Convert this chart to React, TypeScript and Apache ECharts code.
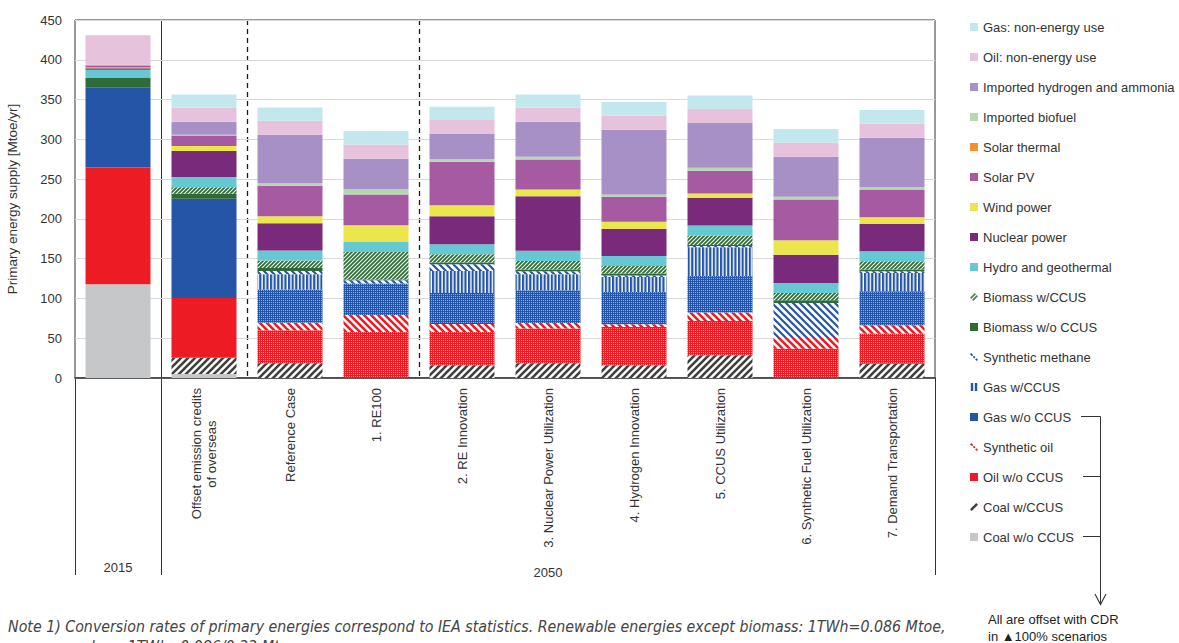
import React, { useEffect, useRef } from 'react';
import * as echarts from 'echarts';

// ---------------- data ----------------
const CATEGORIES = [
  '2015',
  'Offset emission credits\nof overseas\u00a0\u00a0\u00a0\u00a0\u00a0\u00a0\u00a0\u00a0\u00a0',
  'Reference Case',
  '1. RE100',
  '2. RE Innovation',
  '3. Nuclear Power Utilization',
  '4. Hydrogen Innovation',
  '5. CCUS Utilization',
  '6. Synthetic Fuel Utilization',
  '7. Demand Transportation',
];
const YEAR_GROUPS = ['2015', '2050'];
const Y_TICKS = { min: 0, max: 450, interval: 50 };

const coalWo = [117.8, 5, 0, 0, 0, 0, 0, 0, 0, 0];
const coalCcus = [0, 20.5, 18.5, 0, 15.9, 18.5, 15.9, 28.5, 0, 18];
const oilWo = [146.8, 75.2, 41.5, 57.9, 42, 43.6, 48.3, 43.2, 36.9, 37.8];
const synOil = [0, 0, 9.6, 21.4, 10.1, 6.9, 3.3, 10.5, 13.4, 10.5];
const gasWo = [100.3, 124.5, 41.5, 39.4, 38.9, 41.3, 40.7, 46.1, 0, 42.7];
const gasCcus = [0, 0, 19.3, 0, 27.7, 20.1, 18.9, 36, 0, 23.1];
const synMethane = [0, 0, 4.2, 4.2, 8.4, 3.8, 1.7, 1.5, 44.1, 2.1];
const bioWo = [12.1, 6.3, 3.8, 1, 2.1, 2.1, 2.5, 1.5, 3.3, 2.1];
const bioCcus = [0, 8.4, 9.2, 34.6, 10.5, 10.9, 9.6, 11.8, 9.2, 10.5];
const hydro = [10.5, 12.6, 12.6, 12.6, 12.6, 12.6, 12.6, 12.6, 12.6, 12.6];
const nuclear = [2, 32.7, 34.4, 0, 35.2, 68.8, 34, 34.8, 35.3, 34.4];
const wind = [0.7, 6.3, 8.8, 21, 13.8, 8.4, 8.8, 5.4, 18.4, 8.3];
const solarPV = [2.5, 13.4, 38.2, 38.6, 54.6, 37.7, 31.4, 28.5, 51.2, 34.9];
const solarThermal = [1, 0, 0, 0, 0, 0, 0, 0, 0, 0];
const impBiofuel = [0, 1, 3.3, 6.7, 3.3, 3.4, 3, 3.8, 3.3, 2.9];
const impHydrogen = [0, 16.1, 60.8, 38.1, 31.5, 44, 81.3, 56.2, 50.4, 62.1];
const oilNonEnergy = [37, 18.1, 17.7, 18.1, 17.6, 18, 18.1, 18, 17.6, 18];
const gasNonEnergy = [0, 16.4, 16.7, 16.8, 16.8, 16.4, 16.7, 16.8, 17.2, 16.8];

// index from which the "w/o CCUS" oil & gas are offset (dotted texture)
const OFFSET_FROM_INDEX = 2;

// ---------------- styles ----------------
const FONT = "'Liberation Sans', Arial, Helvetica, sans-serif";
const NOTE_FONT = "'Liberation Sans Narrow', 'DejaVu Sans Condensed', 'Liberation Sans', Arial, sans-serif";
const TEXT = '#333333';

const C = {
  coal: '#c6c7c9',
  coalDark: '#3f3f3f',
  red: '#ed1c24',
  blue: '#2455a6',
  bioDark: '#2e6b38',
  hydro: '#66c8d3',
  nuclear: '#7a2a7b',
  wind: '#ebe64b',
  solarPV: '#a55aa2',
  solarThermal: '#f58f33',
  biofuel: '#b6d8b1',
  hydrogen: '#a790c5',
  oilNE: '#e6c2dc',
  gasNE: '#c2e7ed',
};

const svgUrl = (w: number, h: number, body: string) =>
  'data:image/svg+xml;charset=utf-8,' +
  encodeURIComponent(`<svg xmlns="http://www.w3.org/2000/svg" width="${w}" height="${h}">${body}</svg>`);

const diagPattern = (p: number, sw: number, color: string, bg: string, dir: '/' | '\\') => {
  let d = '';
  if (dir === '/') {
    for (const c of [0, p, 2 * p]) d += `M${c - p - 2},${p + 2} L${p + 2},${c - p - 2} `;
  } else {
    for (const c of [-p, 0, p]) d += `M-2,${-2 - c} L${p + 2},${p + 2 - c} `;
  }
  return {
    image: svgUrl(p, p, `<rect width="${p}" height="${p}" fill="${bg}"/><path d="${d}" stroke="${color}" stroke-width="${sw}" fill="none"/>`),
    repeat: 'repeat',
    imageWidth: p,
    imageHeight: p,
  };
};
const vStripePattern = (w: number, bw: number, color: string) => ({
  image: svgUrl(w, w, `<rect width="${w}" height="${w}" fill="#ffffff"/><rect width="${bw}" height="${w}" fill="${color}"/>`),
  repeat: 'repeat',
  imageWidth: w,
  imageHeight: w,
});
const dotPattern = (color: string, op: number) => ({
  image: svgUrl(2, 2, `<rect width="2" height="2" fill="${color}"/><rect x="1" y="0" width="1" height="1" fill="#ffffff" fill-opacity="${op}"/>`),
  repeat: 'repeat',
  imageWidth: 2,
  imageHeight: 2,
});

const P_COAL_CCUS = diagPattern(7, 2.6, C.coalDark, '#ffffff', '/');
const P_SYN_OIL = diagPattern(7, 2.6, C.red, '#ffffff', '\\');
const P_SYN_METH = diagPattern(7, 2.2, C.blue, '#ffffff', '\\');
const P_GAS_CCUS = vStripePattern(3.6, 2.2, C.blue);
const P_BIO_CCUS = diagPattern(4, 1.7, C.bioDark, '#f2f5f1', '/');
const P_DOT_RED = dotPattern(C.red, 0.55);
const P_DOT_BLUE = dotPattern(C.blue, 0.5);

const SLASH = 'path://M0,8 L7,1 L9,3 L2,10 Z';
const BACKSLASH_DASH = 'path://M0,1.5 L1.5,0 L4,2.5 L2.5,4 Z M3.5,5 L5,3.5 L6.8,5.3 L5.3,6.8 Z M6.5,8 L8,6.5 L10,8.5 L8.5,10 Z';
const DOUBLE_BAR = 'path://M1,0 H4 V10 H1 Z M6,0 H9 V10 H6 Z';
const DOUBLE_SLASH = 'path://M0,6 L6,0 L7.5,1.5 L1.5,7.5 Z M2.5,8.5 L8.5,2.5 L10,4 L4,10 Z';

const withOffset = (arr: number[], pattern: any) =>
  arr.map((v, i) => (i >= OFFSET_FROM_INDEX ? { value: v, itemStyle: { color: pattern } } : v));

const SERIES_DEFS: { name: string; data: any[]; color: any; icon?: string; iconColor?: string }[] = [
  { name: 'Coal w/o CCUS', data: coalWo, color: C.coal },
  { name: 'Coal w/CCUS', data: coalCcus, color: P_COAL_CCUS, icon: SLASH, iconColor: C.coalDark },
  { name: 'Oil w/o CCUS', data: withOffset(oilWo, P_DOT_RED), color: C.red },
  { name: 'Synthetic oil', data: synOil, color: P_SYN_OIL, icon: BACKSLASH_DASH, iconColor: C.red },
  { name: 'Gas w/o CCUS', data: withOffset(gasWo, P_DOT_BLUE), color: C.blue },
  { name: 'Gas w/CCUS', data: gasCcus, color: P_GAS_CCUS, icon: DOUBLE_BAR, iconColor: C.blue },
  { name: 'Synthetic methane', data: synMethane, color: P_SYN_METH, icon: BACKSLASH_DASH, iconColor: C.blue },
  { name: 'Biomass w/o CCUS', data: bioWo, color: C.bioDark },
  { name: 'Biomass w/CCUS', data: bioCcus, color: P_BIO_CCUS, icon: DOUBLE_SLASH, iconColor: '#4f7f50' },
  { name: 'Hydro and geothermal', data: hydro, color: C.hydro },
  { name: 'Nuclear power', data: nuclear, color: C.nuclear },
  { name: 'Wind power', data: wind, color: C.wind },
  { name: 'Solar PV', data: solarPV, color: C.solarPV },
  { name: 'Solar thermal', data: solarThermal, color: C.solarThermal },
  { name: 'Imported biofuel', data: impBiofuel, color: C.biofuel },
  { name: 'Imported hydrogen and ammonia', data: impHydrogen, color: C.hydrogen },
  { name: 'Oil: non-energy use', data: oilNonEnergy, color: C.oilNE },
  { name: 'Gas: non-energy use', data: gasNonEnergy, color: C.gasNE },
];

// ---------------- layout ----------------
const GL = 75;
const GT = 20;
const GW = 860;
const GH = 358;
const CW = GW / CATEGORIES.length;
const BOTTOM_EXT = 575;
const ARROW_X = 1100.5;

function buildOption() {
  const legendData = [...SERIES_DEFS].reverse().map((s) =>
    s.icon ? { name: s.name, icon: s.icon, itemStyle: { color: s.iconColor } } : { name: s.name, icon: 'rect' }
  );

  const lineStyle = { stroke: TEXT, lineWidth: 1 };
  const graphic: any[] = [
    { type: 'line', shape: { x1: GL + CW + 0.5, y1: GT, x2: GL + CW + 0.5, y2: BOTTOM_EXT }, style: lineStyle },
    { type: 'line', shape: { x1: GL + 0.5, y1: GT + GH, x2: GL + 0.5, y2: BOTTOM_EXT }, style: lineStyle },
    { type: 'line', shape: { x1: GL + GW + 0.5, y1: GT + GH, x2: GL + GW + 0.5, y2: BOTTOM_EXT }, style: lineStyle },
    { type: 'line', shape: { x1: GL + 2 * CW + 0.5, y1: GT, x2: GL + 2 * CW + 0.5, y2: GT + GH }, style: { stroke: '#1a1a1a', lineWidth: 1.3, lineDash: [5, 4] } },
    { type: 'line', shape: { x1: GL + 4 * CW + 0.5, y1: GT, x2: GL + 4 * CW + 0.5, y2: GT + GH }, style: { stroke: '#1a1a1a', lineWidth: 1.3, lineDash: [5, 4] } },
    { type: 'text', style: { text: YEAR_GROUPS[0], x: GL + CW / 2, y: 567, align: 'center', verticalAlign: 'middle', fontSize: 13, fontFamily: FONT, fill: TEXT } },
    { type: 'text', style: { text: YEAR_GROUPS[1], x: GL + CW + (GW - CW) / 2, y: 572, align: 'center', verticalAlign: 'middle', fontSize: 13, fontFamily: FONT, fill: TEXT } },
    // bracket + arrow
    { type: 'line', shape: { x1: 1081, y1: 416.5, x2: ARROW_X, y2: 416.5 }, style: lineStyle },
    { type: 'line', shape: { x1: 1083, y1: 476.5, x2: ARROW_X, y2: 476.5 }, style: lineStyle },
    { type: 'line', shape: { x1: 1083, y1: 536.5, x2: ARROW_X, y2: 536.5 }, style: lineStyle },
    { type: 'line', shape: { x1: ARROW_X, y1: 416.5, x2: ARROW_X, y2: 604 }, style: lineStyle },
    { type: 'polyline', shape: { points: [[ARROW_X - 5.5, 594], [ARROW_X, 604.5], [ARROW_X + 5.5, 594]] }, style: { stroke: TEXT, lineWidth: 1.1, fill: 'none' } },
    { type: 'text', style: { text: 'All are offset with CDR', x: 988, y: 619, align: 'left', verticalAlign: 'middle', fontSize: 13, fontFamily: FONT, fill: '#222' } },
    { type: 'text', style: { text: 'in \u25B2100% scenarios', x: 988, y: 636, align: 'left', verticalAlign: 'middle', fontSize: 13, fontFamily: FONT, fill: '#222' } },
    // note
    { type: 'text', style: { text: 'Note 1) Conversion rates of primary energies correspond to IEA statistics. Renewable energies except biomass: 1TWh=0.086 Mtoe,', x: 8, y: 626, align: 'left', verticalAlign: 'middle', fontSize: 15.8, fontStyle: 'italic', fontFamily: NOTE_FONT, fill: '#444' } },
    { type: 'text', style: { text: 'nuclear: 1TWh=0.086/0.33 Mtoe', x: 65, y: 646, align: 'left', verticalAlign: 'middle', fontSize: 15.8, fontStyle: 'italic', fontFamily: NOTE_FONT, fill: '#444' } },
  ];

  return {
    animation: false,
    backgroundColor: '#ffffff',
    textStyle: { fontFamily: FONT },
    grid: {
      left: GL,
      top: GT,
      width: GW,
      height: GH,
      show: true,
      borderColor: TEXT,
      borderWidth: 1,
      containLabel: false,
      outerBoundsMode: 'none',
    },
    legend: {
      orient: 'vertical',
      left: 970,
      top: 20,
      padding: 0,
      itemWidth: 8,
      itemHeight: 8,
      itemGap: 16,
      selectedMode: false,
      icon: 'rect',
      textStyle: { fontSize: 13, color: TEXT, lineHeight: 14, fontFamily: FONT },
      data: legendData,
    },
    xAxis: {
      type: 'category',
      data: CATEGORIES,
      axisTick: { show: false },
      axisLine: { show: true, lineStyle: { color: TEXT, width: 1.6 } },
      axisLabel: {
        interval: 0,
        rotate: 90,
        margin: 10,
        fontSize: 13,
        color: TEXT,
        lineHeight: 15,
        fontFamily: FONT,
        formatter: (v: string, i: number) => (i === 0 ? '' : v),
      },
      splitLine: { show: false },
    },
    yAxis: {
      type: 'value',
      min: Y_TICKS.min,
      max: Y_TICKS.max,
      interval: Y_TICKS.interval,
      name: 'Primary energy supply [Mtoe/yr]',
      nameLocation: 'middle',
      nameGap: 56,
      nameTextStyle: { fontSize: 13.5, color: TEXT, fontFamily: FONT },
      axisLine: { show: false },
      axisTick: { show: false },
      axisLabel: { fontSize: 13, color: TEXT, margin: 13, fontFamily: FONT },
      splitLine: { show: true, lineStyle: { color: '#d9d9d9', width: 1 } },
    },
    series: SERIES_DEFS.map((s) => ({
      name: s.name,
      type: 'bar',
      stack: 'total',
      barWidth: 65,
      data: s.data,
      itemStyle: { color: s.color },
      emphasis: { disabled: true },
    })),
    graphic,
  };
}

export default function App() {
  const ref = useRef<HTMLDivElement>(null);
  useEffect(() => {
    if (!ref.current) return;
    const chart = echarts.init(ref.current, null, { renderer: 'svg' });
    chart.setOption(buildOption() as any);
    return () => chart.dispose();
  }, []);
  return <div ref={ref} style={{ position: 'fixed', left: 0, top: 0, width: 1179, height: 643, background: '#fff' }} />;
}
